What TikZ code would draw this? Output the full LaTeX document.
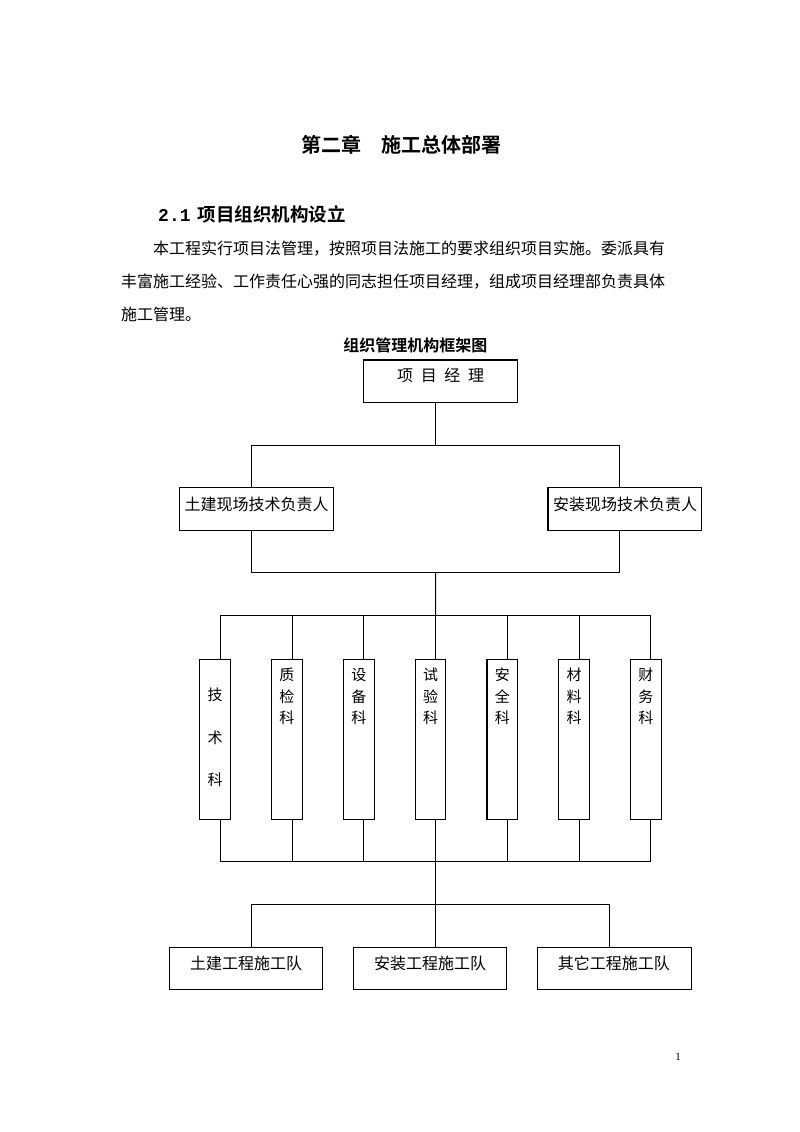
\documentclass[tikz,border=0pt]{standalone}
\usepackage{fontspec}
\setmainfont{Noto Sans CJK SC}
\newfontfamily\cjkb{Noto Sans CJK SC Bold}
\newfontfamily\latinserif{Liberation Serif}
\newfontfamily\monob{Liberation Mono Bold}
\usetikzlibrary{calc}
\begin{document}
\begin{tikzpicture}[x=1pt,y=-1pt,
  orgbox/.style={draw=black, line width=1.1pt, inner sep=0pt, minimum width=153.5pt, minimum height=42.5pt},
  deptbox/.style={draw=black, line width=1.1pt, inner sep=0pt, minimum width=30.7pt, minimum height=160pt, anchor=north west},
  conn/.style={draw=black, line width=1pt},
  lbl/.style={anchor=base, inner sep=0pt, font=\fontsize{16}{16}\selectfont},
  vch/.style={anchor=base, inner sep=0pt, font=\fontsize{15}{15}\selectfont},
  bodytxt/.style={anchor=base west, inner sep=0pt, font=\fontsize{16}{16}\selectfont},
]
\useasboundingbox[fill=white] (0,0) rectangle (800,1132);

% headings and paragraph
\node[anchor=base, inner sep=0pt, font=\cjkb\fontsize{20}{20}\selectfont] (title) at (401,152.6) {第二章\hspace{20pt}施工总体部署};
\node[anchor=base west, inner sep=0pt, font=\cjkb\fontsize{18.5}{18.5}\selectfont] (sec) at (158,221) {{\monob\fontsize{18}{18}\selectfont 2.1}\hspace{7pt}项目组织机构设立};
\node[bodytxt] (p1) at (153,254) {本工程实行项目法管理，按照项目法施工的要求组织项目实施。委派具有};
\node[bodytxt] (p2) at (121,287.5) {丰富施工经验、工作责任心强的同志担任项目经理，组成项目经理部负责具体};
\node[bodytxt] (p3) at (121,320) {施工管理。};
\node[anchor=base, inner sep=0pt, font=\cjkb\fontsize{16}{16}\selectfont] (cap) at (415.3,351.1) {组织管理机构框架图};

% top boxes
\node[orgbox] (pm) at (440.5,381.2) {};
\node[lbl] (pmt) at (440.6,381.1) {项\hspace{7.6pt}目\hspace{7.6pt}经\hspace{7.6pt}理};
\node[orgbox] (tj) at (256.3,509) {};
\node[lbl] (tjt) at (256.5,510.1) {土建现场技术负责人};
\node[orgbox] (az) at (624.7,509) {};
\node[lbl] (azt) at (625,510.1) {安装现场技术负责人};

\coordinate (j1) at (435.3,445);
\coordinate (tjx) at (251,445);
\coordinate (azx) at (619.3,445);
\draw[conn] (pm.south -| j1) -- (j1);
\draw[conn] (tj.north -| tjx) -- (tjx) -- (azx) -- (az.north -| azx);

\coordinate (tjl) at (251,572.7);
\coordinate (azl) at (619.3,572.7);
\coordinate (j2) at (435.6,572.7);
\draw[conn] (tj.south -| tjl) -- (tjl) -- (azl) -- (az.south -| azl);

% department boxes
\foreach \i in {1,...,7} {
  \pgfmathsetmacro\xl{199.3+71.78*(\i-1)}
  \node[deptbox] (d\i) at (\xl,659.3) {};
  \coordinate (c\i) at (\xl+21,615.7);
  \coordinate (e\i) at (\xl+21,861.7);
  \draw[conn] (c\i) -- (d\i.north -| c\i);
  \draw[conn] (d\i.south -| e\i) -- (e\i);
}
\draw[conn] (c1) -- (c7);
\draw[conn] (e1) -- (e7);
\draw[conn] (j2) -- (c4);

\node[vch] (d1a) at ($(d1.north)+(0,35.7+5.7)$) {技};
\node[vch] (d1b) at ($(d1.north)+(0,78.7+5.7)$) {术};
\node[vch] (d1c) at ($(d1.north)+(0,120.7+5.7)$) {科};
\foreach \i/\a/\b/\c in {2/质/检/科,3/设/备/科,4/试/验/科,5/安/全/科,6/材/料/科,7/财/务/科} {
  \node[vch] (d\i a) at ($(d\i.north)+(0,15.7+5.7)$) {\a};
  \node[vch] (d\i b) at ($(d\i.north)+(0,37.2+5.7)$) {\b};
  \node[vch] (d\i c) at ($(d\i.north)+(0,58.2+5.7)$) {\c};
}

% teams
\node[orgbox, minimum height=42pt] (tj2) at (246,968.3) {};
\node[lbl] (tj2t) at (246.2,969.4) {土建工程施工队};
\node[orgbox, minimum height=42pt] (az2) at (430,968.3) {};
\node[lbl] (az2t) at (430,969.4) {安装工程施工队};
\node[orgbox, minimum height=42pt] (qt) at (614.3,968.3) {};
\node[lbl] (qtt) at (613.8,969.4) {其它工程施工队};

\coordinate (tl) at (251,904.3);
\coordinate (tr) at (609.3,904.3);
\draw[conn] (tj2.north -| tl) -- (tl) -- (tr) -- (qt.north -| tr);
\draw[conn] (e4) -- (az2.north -| e4);

% page number
\node[anchor=base, inner sep=0pt, font=\latinserif\fontsize{11}{11}\selectfont] (pg) at (678,1060) {1};
\end{tikzpicture}
\end{document}
